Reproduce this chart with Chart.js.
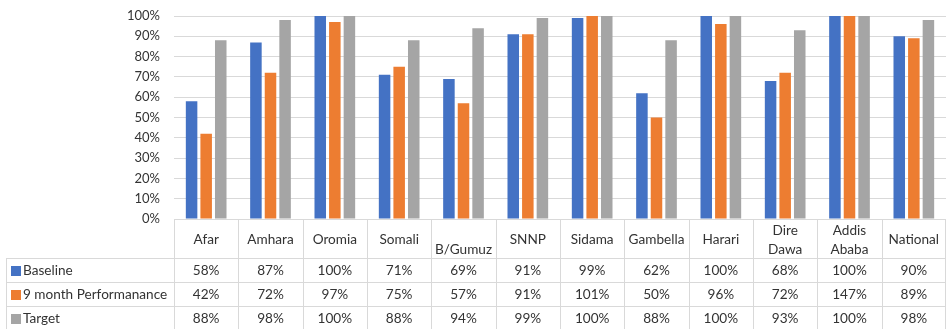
<!DOCTYPE html>
<html>
<head>
<meta charset="utf-8">
<script src="https://cdn.jsdelivr.net/npm/chart.js@4/dist/chart.umd.min.js"></script>
<style>
  html, body { margin: 0; padding: 0; background: #fff; }
  canvas { display: block; }
</style>
</head>
<body>
<canvas id="chart" width="946" height="329"></canvas>
<script>
// Regions and their header text in the data table
const categories = ['Afar', 'Amhara', 'Oromia', 'Somali', 'B/Gumuz', 'SNNP', 'Sidama',
  'Gambella', 'Harari', 'Dire Dawa', 'Addis Ababa', 'National'];
const headerLabels = [['Afar'], ['Amhara'], ['Oromia'], ['Somali'], ['', 'B/Gumuz'], ['SNNP'],
  ['Sidama'], ['Gambella'], ['Harari'], ['Dire', 'Dawa'], ['Addis', 'Ababa'], ['National']];

// Values in percent
const baseline    = [58, 87, 100, 71, 69, 91, 99, 62, 100, 68, 100, 90];
const performance = [42, 72, 97, 75, 57, 91, 101, 50, 96, 72, 147, 89];
const target      = [88, 98, 100, 88, 94, 99, 100, 88, 100, 93, 100, 98];

const seriesNames = ['Baseline', '9 month Performanance', 'Target'];
const yTicks = [0, 10, 20, 30, 40, 50, 60, 70, 80, 90, 100];

const COLORS = ['#4472C4', '#ED7D31', '#A5A5A5'];
const FONT = 'Lato, "Noto Sans", sans-serif';
const TEXT = '#333333';
const LINE = '#d9d9d9';

// Data table drawn under the plot, aligned with the category scale
const dataTable = {
  id: 'dataTable',
  afterDraw(chart) {
    const { ctx, chartArea, scales: { x } } = chart;
    const top = chartArea.bottom;
    const headerH = 39;
    const rowH = 24;
    const tableLeft = 6;
    const right = chart.width;
    const n = categories.length;

    ctx.save();
    ctx.strokeStyle = LINE;
    ctx.lineWidth = 1;

    // horizontal rules
    for (let r = 0; r < 3; r++) {
      const y = Math.round(top + headerH + r * rowH) + 0.5;
      ctx.beginPath();
      ctx.moveTo(tableLeft, y);
      ctx.lineTo(right, y);
      ctx.stroke();
    }
    // vertical rules
    ctx.beginPath();
    ctx.moveTo(tableLeft + 0.5, top + headerH);
    ctx.lineTo(tableLeft + 0.5, chart.height);
    ctx.stroke();
    for (let i = 0; i <= n; i++) {
      const cx = i === 0 ? chartArea.left
        : i === n ? chartArea.right - 1
        : (x.getPixelForValue(i - 1) + x.getPixelForValue(i)) / 2;
      const px = Math.round(cx) + 0.5;
      ctx.beginPath();
      ctx.moveTo(px, top);
      ctx.lineTo(px, chart.height);
      ctx.stroke();
    }

    ctx.fillStyle = TEXT;
    ctx.font = '13.6px ' + FONT;
    ctx.textAlign = 'center';
    ctx.textBaseline = 'middle';

    // header row
    const headerMid = top + headerH / 2 + 1.5;
    const lh = 19;
    headerLabels.forEach((lines, i) => {
      const cx = x.getPixelForValue(i);
      const y0 = headerMid - (lines.length - 1) * lh / 2;
      lines.forEach((t, k) => ctx.fillText(t, cx, y0 + k * lh));
    });

    // value rows
    const rows = [baseline, performance, target];
    rows.forEach((vals, r) => {
      const cy = top + headerH + r * rowH + rowH / 2 + 1;
      ctx.textAlign = 'center';
      ctx.fillStyle = TEXT;
      vals.forEach((v, i) => ctx.fillText(v + '%', x.getPixelForValue(i), cy));
      // legend key and series name
      ctx.fillStyle = COLORS[r];
      ctx.fillRect(11, Math.round(cy - 5), 10, 10);
      ctx.fillStyle = TEXT;
      ctx.textAlign = 'left';
      ctx.fillText(seriesNames[r], 23, cy);
    });
    ctx.restore();
  }
};

new Chart(document.getElementById('chart'), {
  type: 'bar',
  data: {
    labels: categories,
    datasets: [baseline, performance, target].map((d, i) => ({
      label: seriesNames[i],
      data: d,
      backgroundColor: COLORS[i],
      borderWidth: 0,
      clip: 0,
      categoryPercentage: 0.68,
      barPercentage: 0.79
    }))
  },
  options: {
    responsive: false,
    animation: false,
    events: [],
    layout: { padding: { top: 16, bottom: 110, left: 0, right: 0 } },
    plugins: { legend: { display: false }, tooltip: { enabled: false } },
    scales: {
      x: {
        display: false,
        offset: true
      },
      y: {
        min: 0,
        max: 100,
        afterFit(scale) {
          scale.width = 174;
          scale.paddingTop = 0;
          scale.paddingBottom = 0;
        },
        afterBuildTicks(scale) { scale.ticks = yTicks.map(v => ({ value: v })); },
        border: { display: false },
        grid: { color: LINE, lineWidth: 1, drawTicks: false },
        ticks: {
          padding: 14,
          color: TEXT,
          font: { family: FONT, size: 13 },
          callback: v => v + '%'
        }
      }
    }
  },
  plugins: [dataTable]
});
</script>
</body>
</html>
